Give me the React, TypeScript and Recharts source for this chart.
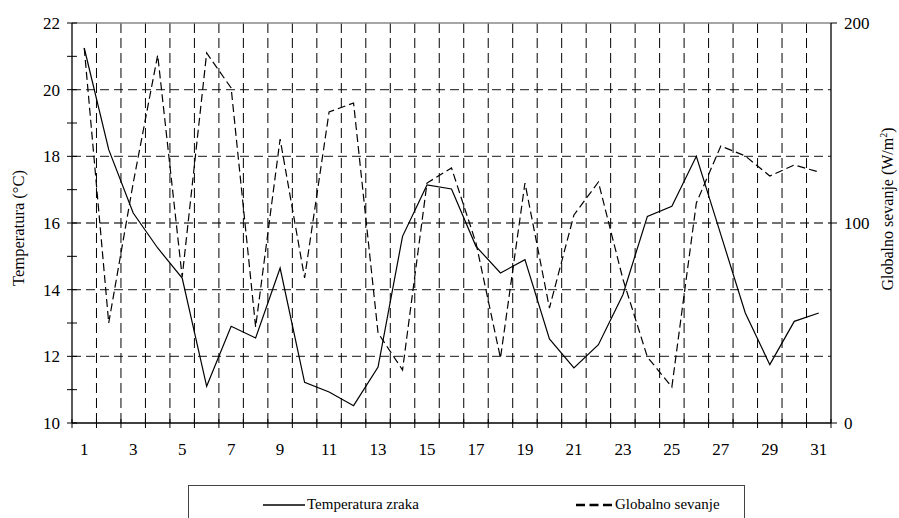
import { LineChart, Line, XAxis, YAxis, CartesianGrid, ReferenceLine, Label } from "recharts";

// day of month
const days = [1, 2, 3, 4, 5, 6, 7, 8, 9, 10, 11, 12, 13, 14, 15, 16, 17, 18, 19, 20, 21, 22, 23, 24, 25, 26, 27, 28, 29, 30, 31];

// Temperatura zraka (°C)
const temperatura = [
  21.25, 18.2, 16.3, 15.25, 14.35, 11.1, 12.9, 12.55, 14.65, 11.22, 10.93, 10.52, 11.68, 15.6, 17.14, 17.02,
  15.3, 14.5, 14.9, 12.52, 11.65, 12.35, 13.85, 16.2, 16.5, 18.0, 15.65, 13.3, 11.75, 13.05, 13.3,
];

// Globalno sevanje (W/m2)
const sevanje = [
  187.5, 50, 120, 184, 73, 185, 167.5, 48, 142, 72.5, 155.5, 160, 45, 26.5, 120, 127.5,
  90, 32.5, 120, 57.5, 104, 120.5, 72, 33, 18, 110, 138.5, 133.5, 123.5, 129, 125.5,
];

const seriesNames = ["Temperatura zraka", "Globalno sevanje"];
const tempTicks = [10, 11, 12, 13, 14, 15, 16, 17, 18, 19, 20, 21, 22];
const tempGrid = [12, 14, 16, 18, 20];
const sevanjeTicks = [0, 100, 200];

const dayLabels = days.filter((d) => d % 2 === 1);
const dayBounds = [days[0] - 0.5, ...days.map((d) => d + 0.5)];
const innerBounds = dayBounds.slice(1, -1);

const data = days.map((d, i) => ({ day: d, temp: temperatura[i], rad: sevanje[i] }));

const FONT = "'Liberation Serif', 'DejaVu Serif', serif";
const TICK = 5;
const X_MARGIN = 15;
const Y_MARGIN = 7;

const textStyle = { fontFamily: FONT };

function DayTick(props: any) {
  const { x, y, payload } = props;
  const v = payload.value;
  const axisY = y - TICK - X_MARGIN;
  if (v % 1 !== 0) {
    return <line x1={x} x2={x} y1={axisY - 4} y2={axisY + TICK} stroke="#000" />;
  }
  return (
    <text x={x} y={y} dy="0.71em" textAnchor="middle" fontSize={17} style={textStyle} fill="#000">
      {v}
    </text>
  );
}

function TempTick(props: any) {
  const { x, y, payload } = props;
  const axisX = x + TICK + Y_MARGIN;
  const v = payload.value;
  return (
    <g>
      <line x1={axisX - TICK} x2={axisX + 5} y1={y} y2={y} stroke="#000" />
      {v % 2 === 0 && (
        <text x={x} y={y} dy="0.355em" textAnchor="end" fontSize={17} style={textStyle} fill="#000">
          {v}
        </text>
      )}
    </g>
  );
}

export default function App() {
  return (
    <div style={{ position: "absolute", left: 0, top: 0, width: 899, height: 518, overflow: "hidden", background: "#fff", fontFamily: FONT }}>
      <LineChart
        width={899}
        height={518}
        data={data}
        margin={{ top: 23, right: 8, left: 12, bottom: 55 }}
        style={{ fontFamily: FONT }}
      >
        <CartesianGrid
          yAxisId="left"
          vertical={false}
          horizontalValues={tempGrid}
          stroke="#444"
          strokeWidth={1.3}
          strokeDasharray="9 5"
        />
        <CartesianGrid
          yAxisId="left"
          horizontal={false}
          verticalValues={innerBounds}
          stroke="#000"
          strokeDasharray="10 5"
        />
        <ReferenceLine yAxisId="left" y={22} stroke="#888" strokeWidth={1.3} />
        <XAxis
          dataKey="day"
          type="number"
          domain={[dayBounds[0], dayBounds[dayBounds.length - 1]]}
          ticks={[...dayBounds, ...dayLabels]}
          interval={0}
          height={40}
          tickLine={false}
          tickSize={TICK}
          tickMargin={X_MARGIN}
          tick={<DayTick />}
          axisLine={{ stroke: "#000", strokeWidth: 1.3 }}
        />
        <YAxis
          yAxisId="left"
          domain={[10, 22]}
          ticks={tempTicks}
          interval={0}
          width={60}
          tickLine={false}
          tickSize={TICK}
          tickMargin={Y_MARGIN}
          tick={<TempTick />}
          axisLine={{ stroke: "#000", strokeWidth: 1.3 }}
        >
          <Label
            content={({ viewBox }: any) => {
              const cx = viewBox.x + 12;
              const cy = viewBox.y + viewBox.height / 2 + 5;
              return (
                <text x={cx} y={cy} transform={`rotate(-90 ${cx} ${cy})`} textAnchor="middle" fontSize={16.5} style={textStyle} fill="#000">
                  Temperatura (°C)
                </text>
              );
            }}
          />
        </YAxis>
        <YAxis
          yAxisId="right"
          orientation="right"
          domain={[0, 200]}
          ticks={sevanjeTicks}
          interval={0}
          width={60}
          tickSize={6}
          tickMargin={7}
          tickLine={{ stroke: "#000" }}
          tick={{ fill: "#000", fontSize: 17, style: textStyle }}
          axisLine={{ stroke: "#000", strokeWidth: 1.3 }}
        >
          <Label
            content={({ viewBox }: any) => {
              const cx = viewBox.x + 62;
              const cy = viewBox.y + viewBox.height / 2 - 14;
              return (
                <text x={cx} y={cy} transform={`rotate(-90 ${cx} ${cy})`} textAnchor="middle" fontSize={16} style={textStyle} fill="#000">
                  Globalno sevanje (W/m
                  <tspan dy={-6} fontSize={10}>2</tspan>
                  <tspan dy={6}>)</tspan>
                </text>
              );
            }}
          />
        </YAxis>
        <Line
          yAxisId="left"
          name={seriesNames[0]}
          dataKey="temp"
          stroke="#000"
          strokeWidth={1.2}
          dot={false}
          isAnimationActive={false}
        />
        <Line
          yAxisId="right"
          name={seriesNames[1]}
          dataKey="rad"
          stroke="#000"
          strokeWidth={1.2}
          strokeDasharray="8 4"
          dot={false}
          isAnimationActive={false}
        />
      </LineChart>
      <svg
        width={557}
        height={50}
        style={{ position: "absolute", left: 188, top: 485, fontFamily: FONT }}
      >
        <rect x={0.5} y={0.5} width={556} height={60} fill="#fff" stroke="#444" />
        <line x1={75} x2={117} y1={20} y2={20} stroke="#000" strokeWidth={1.3} />
        <text x={119} y={24} fontSize={15} style={textStyle} fill="#000">{seriesNames[0]}</text>
        <line x1={388} x2={424} y1={20} y2={20} stroke="#000" strokeWidth={2.5} strokeDasharray="9 4.5" />
        <text x={427} y={24} fontSize={15} style={textStyle} fill="#000">{seriesNames[1]}</text>
      </svg>
    </div>
  );
}
